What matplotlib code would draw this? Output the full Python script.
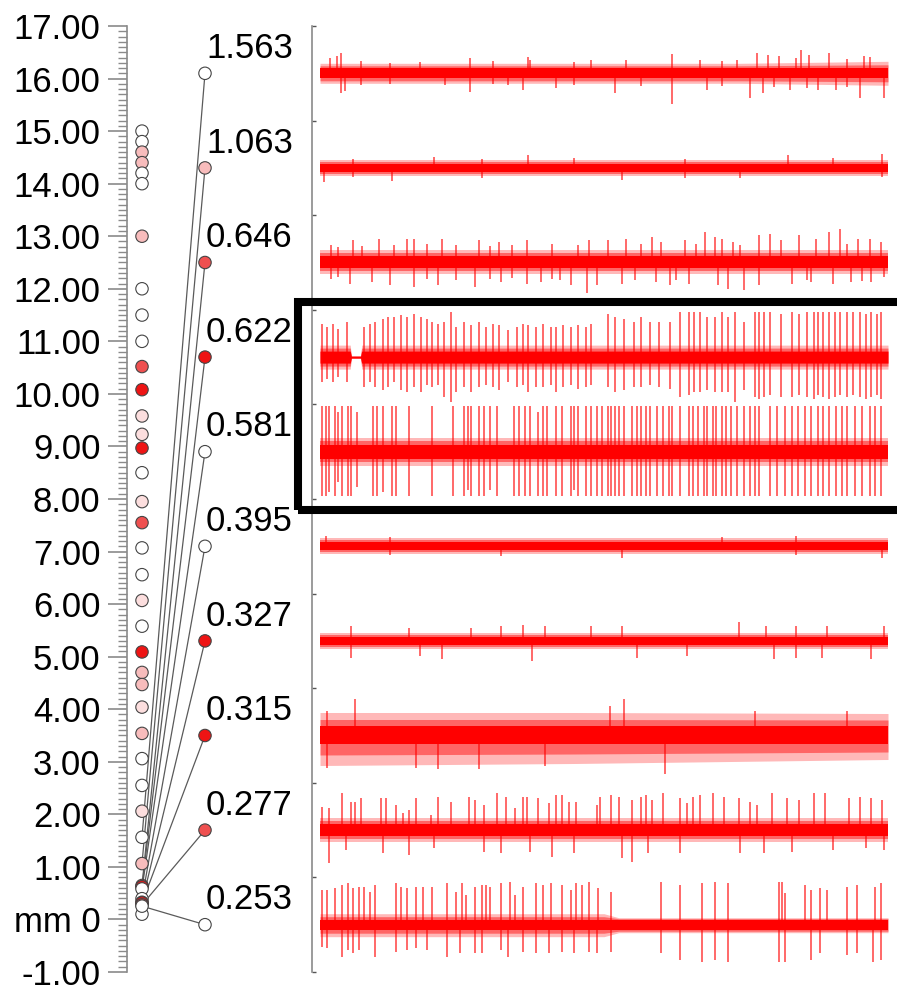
import numpy as np
import matplotlib
matplotlib.use('Agg')
import matplotlib.pyplot as plt
from matplotlib.patches import Rectangle
from matplotlib.ticker import MultipleLocator, FixedLocator, FuncFormatter

plt.rcParams['font.family'] = ['Liberation Sans', 'DejaVu Sans']

# ---------------- data ----------------
depth_labels = ['1.563', '1.063', '0.646', '0.622', '0.581',
                '0.395', '0.327', '0.315', '0.277', '0.253']
depth_values = [1.563, 1.063, 0.646, 0.622, 0.581, 0.395, 0.327, 0.315, 0.277, 0.253]
channel_colors = ['w', 'p', 'm', 'r', 'w', 'w', 'r', 'r', 'm', 'w']

# electrode contacts along the probe (mm, colour code)
contact_mm = [15.0, 14.8, 14.6, 14.4, 14.2, 14.0, 13.0, 12.0, 11.5, 11.0,
              10.52, 10.08, 9.58, 9.23, 8.97, 8.50, 7.95, 7.55, 7.07, 6.56,
              6.07, 5.58, 5.09, 4.70, 4.47, 4.04, 3.54, 3.06, 2.55, 2.06,
              0.10]
contact_col = ['w', 'w', 'p', 'p', 'w', 'w', 'p', 'w', 'w', 'w',
               'm', 'r', 'q', 'q', 'r', 'w', 'q', 'm', 'w', 'w',
               'q', 'w', 'r', 'p', 'p', 'q', 'p', 'w', 'w', 'q',
               'w']
palette = {'w': '#ffffff', 'q': '#fcdede', 'p': '#f8bcbc', 'm': '#ef5050', 'r': '#ee1414'}

# traces: spikes as (t, up, down) in display units; envelopes of the noise band
spikes_1563 = [(38, 15, 0), (55, 17, 0), (68, 20, 20), (78, 0, 18), (120, 12, 12), (200, 10, 11),
               (280, 11, 0), (350, 0, 12), (418, 15, 19), (480, 12, 11), (520, 0, 12), (560, 0, 17),
               (575, 16, 0), (580, 13, 0), (650, 0, 15), (700, 11, 12), (745, 13, 0), (810, 0, 20),
               (840, 13, 0), (880, 0, 13), (965, 19, 31), (1040, 13, 0), (1060, 0, 17), (1100, 12, 13),
               (1140, 13, 0), (1175, 0, 25), (1195, 20, 0), (1210, 0, 20), (1225, 18, 0), (1240, 0, 14),
               (1255, 17, 0), (1285, 0, 17), (1300, 15, 0), (1315, 23, 0), (1330, 0, 15), (1335, 18, 0),
               (1360, 0, 17), (1390, 20, 0), (1410, 0, 17), (1440, 14, 14), (1475, 0, 25), (1485, 17, 0),
               (1500, 16, 0), (1540, 0, 25)]
spikes_1063 = [(20, 0, 14), (100, 9, 9), (205, 0, 13), (320, 11, 0), (450, 9, 10), (575, 13, 0),
               (700, 10, 0), (830, 0, 12), (1000, 9, 10), (1150, 0, 10), (1280, 13, 0), (1400, 10, 0),
               (1535, 14, 9)]
spikes_0646 = [(40, 17, 17), (60, 15, 15), (90, 0, 22), (100, 22, 0), (125, 16, 0), (150, 0, 20),
               (170, 23, 0), (200, 0, 23), (210, 17, 0), (245, 23, 0), (265, 23, 25), (300, 18, 17),
               (330, 0, 23), (340, 23, 0), (380, 17, 18), (430, 0, 25), (440, 22, 0), (470, 16, 17),
               (495, 20, 0), (500, 0, 20), (530, 17, 16), (570, 22, 22), (610, 0, 20), (640, 18, 17),
               (660, 0, 18), (690, 0, 23), (710, 17, 0), (735, 0, 31), (740, 22, 0), (760, 0, 23),
               (790, 22, 0), (830, 0, 22), (840, 23, 0), (865, 0, 18), (880, 18, 0), (910, 25, 0),
               (920, 0, 20), (935, 20, 0), (960, 0, 23), (975, 0, 18), (1000, 22, 0), (1010, 0, 22),
               (1030, 18, 0), (1055, 30, 0), (1080, 25, 0), (1090, 0, 23), (1100, 23, 0), (1115, 0, 27),
               (1130, 20, 0), (1150, 17, 0), (1160, 0, 28), (1200, 27, 23), (1230, 28, 0), (1260, 22, 0),
               (1290, 0, 22), (1310, 27, 0), (1330, 0, 18), (1340, 0, 20), (1355, 23, 0), (1390, 30, 0),
               (1400, 0, 22), (1420, 33, 0), (1440, 18, 0), (1450, 0, 20), (1470, 23, 0), (1480, 0, 19),
               (1500, 23, 0), (1505, 0, 20), (1530, 20, 0), (1540, 0, 15)]
spikes_0622 = [(15, 33, 25), (30, 30, 22), (45, 33, 25), (60, 28, 20), (82, 35, 25), (130, 30, 30),
               (145, 33, 25), (160, 35, 30), (180, 38, 33), (195, 40, 30), (210, 40, 25), (230, 42, 33),
               (245, 40, 35), (265, 43, 30), (285, 40, 35), (300, 38, 28), (315, 35, 30), (330, 33, 28),
               (345, 35, 40), (365, 45, 45), (380, 30, 35), (400, 35, 30), (420, 32, 35), (440, 35, 30),
               (460, 30, 28), (480, 33, 30), (495, 32, 33), (520, 27, 25), (545, 30, 30), (560, 33, 28),
               (575, 32, 35), (595, 30, 30), (615, 33, 30), (635, 30, 28), (650, 30, 35), (670, 32, 30),
               (690, 30, 28), (710, 32, 32), (730, 30, 30), (745, 33, 28), (790, 43, 30), (810, 40, 35),
               (835, 38, 33), (860, 35, 30), (880, 40, 30), (905, 35, 28), (930, 35, 30), (960, 35, 32),
               (985, 45, 40), (1010, 45, 38), (1025, 45, 35), (1040, 45, 35), (1060, 40, 33), (1080, 40, 35),
               (1100, 45, 35), (1115, 40, 35), (1135, 45, 45), (1160, 35, 33), (1190, 45, 40), (1200, 45, 42),
               (1215, 45, 40), (1230, 45, 38), (1260, 43, 40), (1290, 45, 40), (1310, 43, 38), (1330, 45, 40),
               (1350, 45, 42), (1360, 45, 38), (1375, 45, 40), (1390, 45, 42), (1405, 45, 40), (1420, 45, 38),
               (1440, 45, 40), (1455, 45, 38), (1475, 45, 40), (1490, 43, 42), (1505, 45, 40), (1520, 43, 38),
               (1530, 45, 42)]
spikes_0581 = [(15, 46, 44), (25, 46, 44), (35, 46, 40), (50, 46, 44), (60, 40, 30), (70, 46, 44),
               (85, 46, 44), (95, 46, 44), (110, 40, 35), (155, 46, 44), (165, 46, 44), (180, 46, 40),
               (205, 46, 44), (215, 46, 44), (250, 46, 44), (315, 46, 44), (370, 46, 44), (400, 46, 44),
               (410, 46, 38), (420, 46, 44), (440, 46, 44), (455, 46, 44), (470, 46, 38), (490, 46, 44),
               (535, 46, 44), (550, 46, 44), (565, 46, 44), (580, 46, 44), (600, 40, 44), (615, 46, 44),
               (625, 46, 44), (650, 46, 44), (665, 46, 44), (690, 46, 44), (700, 46, 38), (710, 46, 44),
               (730, 46, 44), (745, 46, 44), (760, 46, 44), (775, 46, 44), (790, 46, 44), (800, 46, 44),
               (810, 46, 44), (820, 46, 44), (835, 46, 44), (855, 46, 44), (870, 46, 44), (880, 46, 44),
               (895, 46, 44), (905, 46, 44), (925, 46, 44), (940, 46, 44), (955, 46, 44), (965, 46, 44),
               (985, 46, 44), (1010, 46, 44), (1020, 46, 44), (1035, 46, 44), (1050, 46, 44), (1060, 46, 44),
               (1075, 46, 44), (1085, 46, 44), (1100, 46, 44), (1110, 46, 44), (1125, 46, 44), (1140, 46, 44),
               (1160, 46, 44), (1175, 46, 44), (1190, 46, 44), (1200, 46, 44), (1230, 46, 44), (1250, 46, 44),
               (1270, 46, 44), (1290, 46, 44), (1305, 46, 44), (1325, 46, 44), (1340, 46, 44), (1360, 46, 44),
               (1375, 46, 44), (1390, 46, 44), (1410, 46, 44), (1425, 46, 44), (1440, 46, 44), (1460, 46, 44),
               (1480, 46, 44), (1500, 46, 44), (1515, 46, 44), (1530, 46, 44)]
spikes_0395 = [(25, 10, 0), (200, 9, 9), (500, 0, 10), (830, 0, 12), (1100, 9, 0), (1300, 10, 9),
               (1535, 0, 12)]
spikes_0327 = [(95, 15, 17), (250, 13, 0), (280, 0, 15), (340, 0, 18), (420, 13, 0), (500, 15, 0),
               (560, 16, 0), (585, 0, 20), (620, 15, 0), (745, 15, 0), (830, 15, 0), (870, 0, 17),
               (1005, 0, 15), (1145, 19, 0), (1220, 15, 0), (1240, 0, 18), (1300, 15, 17), (1370, 0, 17),
               (1385, 15, 0), (1505, 0, 18), (1540, 15, 0)]
spikes_0315 = [(30, 25, 32), (105, 37, 0), (270, 0, 32), (330, 0, 33), (440, 0, 33), (620, 0, 30),
               (795, 30, 0), (835, 37, 0), (945, 0, 38), (1190, 25, 0), (1440, 25, 0)]
spikes_0277 = [(15, 23, 0), (35, 22, 33), (70, 37, 0), (80, 0, 20), (95, 28, 0), (105, 28, 0),
               (120, 32, 0), (175, 32, 0), (180, 0, 23), (190, 32, 0), (215, 25, 0), (235, 17, 0),
               (250, 20, 25), (270, 32, 0), (310, 15, 0), (320, 0, 18), (330, 33, 0), (365, 28, 0),
               (415, 33, 0), (430, 30, 0), (455, 25, 22), (490, 37, 0), (500, 0, 23), (515, 33, 0),
               (540, 22, 0), (560, 33, 0), (570, 33, 0), (580, 0, 22), (600, 32, 0), (630, 27, 0),
               (640, 0, 27), (650, 35, 0), (665, 35, 0), (685, 28, 0), (700, 0, 23), (705, 28, 0),
               (760, 25, 0), (770, 33, 0), (800, 35, 0), (820, 33, 0), (830, 0, 28), (855, 30, 32),
               (880, 33, 0), (895, 35, 0), (900, 0, 23), (910, 30, 0), (940, 37, 0), (985, 32, 23),
               (1005, 27, 0), (1020, 33, 0), (1040, 35, 0), (1075, 37, 0), (1105, 33, 0), (1145, 32, 0),
               (1150, 0, 23), (1175, 28, 0), (1195, 25, 0), (1215, 0, 23), (1235, 37, 0), (1275, 32, 0),
               (1290, 0, 22), (1310, 30, 0), (1350, 37, 0), (1380, 37, 0), (1400, 0, 20), (1445, 32, 0),
               (1475, 33, 0), (1490, 0, 18), (1505, 32, 0), (1535, 30, 0), (1540, 0, 20)]
spikes_0253 = [(15, 35, 22), (30, 35, 23), (50, 37, 0), (70, 40, 32), (85, 42, 25), (100, 37, 28),
               (115, 38, 25), (130, 38, 0), (145, 33, 0), (160, 40, 32), (215, 42, 27), (230, 38, 0),
               (245, 37, 25), (270, 38, 23), (290, 38, 0), (300, 0, 25), (315, 38, 0), (355, 42, 32),
               (380, 33, 0), (390, 0, 28), (395, 42, 0), (405, 30, 0), (430, 38, 28), (450, 40, 28),
               (460, 40, 0), (470, 38, 0), (500, 42, 25), (520, 0, 32), (525, 43, 0), (540, 30, 0),
               (560, 38, 27), (595, 42, 28), (615, 40, 0), (630, 0, 28), (635, 42, 0), (665, 40, 27),
               (690, 35, 0), (700, 0, 28), (705, 42, 0), (720, 40, 0), (740, 43, 27), (760, 0, 28),
               (765, 37, 0), (800, 33, 27), (935, 43, 28), (985, 40, 35), (1045, 42, 37), (1080, 43, 35),
               (1115, 42, 37), (1255, 43, 37), (1262, 43, 0), (1270, 32, 37), (1325, 40, 0), (1340, 35, 35),
               (1365, 37, 28), (1385, 35, 0), (1440, 38, 30), (1465, 40, 28), (1510, 0, 37), (1515, 38, 0),
               (1530, 42, 35)]
trace_spikes = [spikes_1563, spikes_1063, spikes_0646, spikes_0622, spikes_0581,
                spikes_0395, spikes_0327, spikes_0315, spikes_0277, spikes_0253]

env_t = [[10, 1150, 1550], [10, 1550], [10, 1550], [10, 92, 95, 120, 123, 1550], [10, 1550],
         [10, 1550], [10, 1550], [10, 700, 1550], [10, 1550], [10, 780, 820, 1550]]
env_up = [[10, 10, 12], [8, 8], [12, 12], [12, 12, 1, 1, 12, 12], [14, 14],
          [8, 8], [8, 8], [23, 23, 22], [12, 12], [11, 11, 7, 7]]
env_lo = [[10, 10, 12], [8, 8], [12, 12], [12, 12, 1, 1, 12, 12], [14, 14],
          [8, 8], [8, 8], [30, 28, 24], [12, 12], [12, 12, 8, 8]]
core_half = [5, 4, 6, 6, 7, 4, 4, 9, 6, 5]

# ---------------- layout ----------------
W, H = 897, 988
fig = plt.figure(figsize=(W / 100, H / 100), dpi=100)
TOP, BOT = 26, 972
def fy(px):
    return 1 - px / H

RED = '#ff0000'
GRAY = '#8a8a8a'

# ---- left: probe depth axis ----
axL = fig.add_axes([127 / W, fy(BOT), (312 - 127) / W, (BOT - TOP) / H])
axL.set_ylim(-1, 17)
axL.set_xlim(0, 185)
for s in ['top', 'right', 'bottom']:
    axL.spines[s].set_visible(False)
axL.spines['left'].set_color(GRAY)
axL.spines['left'].set_linewidth(1.2)
axL.set_xticks([])
axL.yaxis.set_major_locator(MultipleLocator(1))
axL.yaxis.set_minor_locator(MultipleLocator(0.1))
axL.yaxis.set_major_formatter(FuncFormatter(lambda v, p: 'mm 0' if abs(v) < 1e-9 else f'{v:.2f}'))
axL.tick_params(axis='y', which='major', length=14, width=1.2, color=GRAY, pad=5,
                labelsize=25, labelcolor='black')
axL.tick_params(axis='y', which='minor', length=6.5, width=1.0, color=GRAY)
axL.patch.set_alpha(0)

X_COL, X_ROW = 15, 78
n = len(depth_values)
row_mm = [17 - 18 * (i + 0.5) / n for i in range(n)]

for i in range(n):
    axL.plot([X_COL, X_ROW], [depth_values[i], row_mm[i]], color='#5a5a5a', lw=0.9, zorder=2)

DOT = 80
axL.scatter([X_COL] * len(contact_mm), contact_mm, s=DOT,
            c=[palette[c] for c in contact_col], edgecolors='#444444', linewidths=0.8, zorder=3)
axL.scatter([X_COL] * n, depth_values, s=DOT,
            c=[palette[c] for c in channel_colors], edgecolors='#444444', linewidths=0.8, zorder=4)
axL.scatter([X_ROW] * n, row_mm, s=DOT,
            c=[palette[c] for c in channel_colors], edgecolors='#444444', linewidths=0.8, zorder=4)
for i in range(n):
    axL.text(X_ROW + 1, row_mm[i] + 0.47, depth_labels[i], fontsize=25,
             ha='left', va='center', color='black', zorder=5)

# ---- right: traces ----
s = 568 / 1540
x0 = 10 - (320 - 312) / s
axT = fig.add_axes([312 / W, fy(BOT), (W - 312) / W, (BOT - TOP) / H])
axT.set_xlim(x0, x0 + (W - 312) / s)
SLOT = (BOT - TOP) / n
axT.set_ylim(0, BOT - TOP)
for sp in ['top', 'right', 'bottom']:
    axT.spines[sp].set_visible(False)
axT.spines['left'].set_color(GRAY)
axT.spines['left'].set_linewidth(1.2)
axT.set_xticks([])
axT.yaxis.set_major_locator(FixedLocator([SLOT * k for k in range(n + 1)]))
axT.set_yticklabels([])
axT.tick_params(axis='y', direction='in', length=3, width=1.0, color='#555555')
axT.patch.set_alpha(0)

for i in range(n):
    c = (BOT - TOP) - SLOT * (i + 0.5)
    et = np.array(env_t[i], float)
    eu = np.array(env_up[i], float)
    el = np.array(env_lo[i], float)
    cu = np.minimum(eu, core_half[i])
    cl = np.minimum(el, core_half[i])
    axT.fill_between(et, c - el, c + eu, color=RED, alpha=0.28, lw=0)
    axT.fill_between(et, c - (el + cl) / 2, c + (eu + cu) / 2, color=RED, alpha=0.45, lw=0)
    axT.fill_between(et, c - cl, c + cu, color=RED, lw=0)
    sp_ = trace_spikes[i]
    ts = [p[0] for p in sp_]
    ups = [c + max(p[1], 0) for p in sp_]
    dns = [c - max(p[2], 0) for p in sp_]
    axT.vlines(ts, dns, ups, color=RED, lw=1.1, alpha=0.75)

box = Rectangle((298 / W, fy(510)), (940 - 298) / W, (510 - 302) / H,
                transform=fig.transFigure, fill=False, lw=5.8, ec='black', clip_on=False, zorder=10)
fig.add_artist(box)

fig.savefig('out.png', dpi=100)
